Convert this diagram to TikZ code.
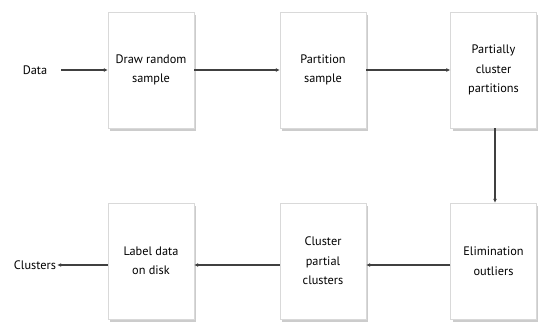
\documentclass[tikz,border=0pt]{standalone}
\usepackage{fontspec}
\setmainfont{PT Sans}
\usetikzlibrary{shadows,arrows.meta}
\begin{document}
\begin{tikzpicture}[x=1pt,y=1pt,
  box/.style={draw=gray!30,fill=white,minimum width=86pt,minimum height=116pt,align=center,inner sep=2pt,
    drop shadow={shadow xshift=2pt,shadow yshift=-3pt,opacity=0.5,fill=gray!80}},
  lbl/.style={inner sep=1pt},
  conn/.style={draw=black!75,line width=1.1pt,-{Latex[length=4pt,width=4pt]}},
  font=\fontsize{12.3}{19.5}\selectfont]
\useasboundingbox (0,0) rectangle (538,324);
\node[box] (b1) at (151,254) {Draw random\\sample};
\node[box] (b2) at (323,254) {Partition\\sample};
\node[box] (b3) at (493.5,254) {Partially\\cluster\\partitions};
\node[box] (b4) at (493.5,63) {Elimination\\outliers};
\node[box] (b5) at (323,63) {Cluster\\partial\\clusters};
\node[box] (b6) at (151,63) {Label data\\on disk};
\node[lbl] (data) at (35,254) {Data};
\node[lbl] (clus) at (35,59) {Clusters};
\draw[conn] (61,254) -- (b1.west);
\draw[conn] (b1.east) -- (b2.west);
\draw[conn] (b2.east) -- (b3.west);
\draw[conn] (b3.south -| 495,0) -- (b4.north -| 495,0);
\draw[conn] (b4.west |- 0,59) -- (b5.east |- 0,59);
\draw[conn] (b5.west |- 0,59) -- (b6.east |- 0,59);
\draw[conn] (b6.west |- 0,59) -- (clus.east);
\end{tikzpicture}
\end{document}
